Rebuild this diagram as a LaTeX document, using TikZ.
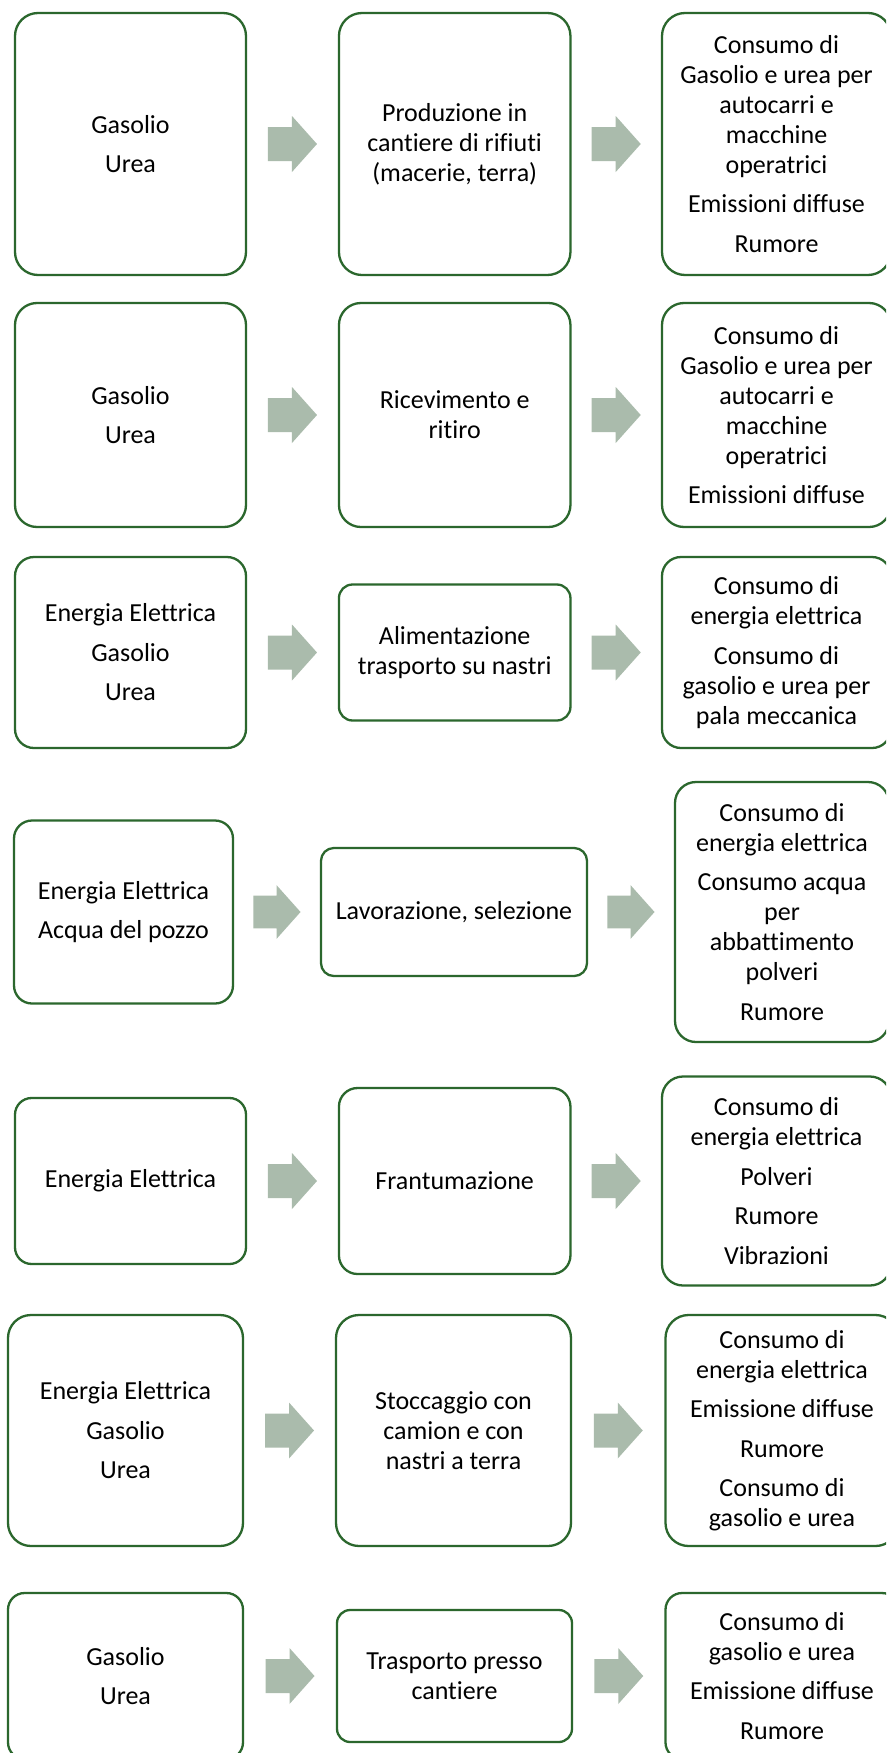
\documentclass[tikz,border=0pt]{standalone}
\usepackage{fontspec}
\setmainfont{Carlito}[Ligatures=NoCommon]
\usetikzlibrary{calc}
\definecolor{boxgreen}{HTML}{2B672D}
\definecolor{arrowgrey}{HTML}{AABBAC}
\tikzset{
  stepbox/.style={draw=boxgreen, line width=2.3pt, fill=white, inner sep=0pt,
    align=center, text=black, font=\fontsize{26}{30}\selectfont},
}
% block arrow centred between two named boxes; #3 scales it
\newcommand\blockarrow[3]{%
  \fill[arrowgrey] ($(#1.east)!0.5!(#2.west)$) ++(-24.5*#3,-17*#3)
    -- ++(24*#3,0) -- ++(0,-11*#3) -- ++(25*#3,28*#3) -- ++(-25*#3,28*#3)
    -- ++(0,-11*#3) -- ++(-24*#3,0) -- cycle;
}
\newcommand\pgap{\\[9.5pt]}
\begin{document}
\begin{tikzpicture}[x=1pt,y=-1pt]
\clip (0,0) rectangle (886,1753);
\fill[white] (0,0) rectangle (886,1753);

% row 1
\node[stepbox, minimum width=231pt, minimum height=262pt, rounded corners=23pt] (r1a) at (130.5,144)
  {Gasolio\pgap Urea};
\node[stepbox, minimum width=231.5pt, minimum height=262pt, rounded corners=23pt] (r1b) at (454.7,144)
  {Produzione in\\cantiere di rifiuti\\(macerie, terra)};
\node[stepbox, minimum width=229pt, minimum height=262pt, rounded corners=23pt] (r1c) at (776.5,144)
  {Consumo di\\Gasolio e urea per\\autocarri e\\macchine\\operatrici\pgap Emissioni diffuse\pgap Rumore};
\blockarrow{r1a}{r1b}{1}
\blockarrow{r1b}{r1c}{1}

% row 2
\node[stepbox, minimum width=231pt, minimum height=224pt, rounded corners=22pt] (r2a) at (130.5,415)
  {Gasolio\pgap Urea};
\node[stepbox, minimum width=231.5pt, minimum height=224pt, rounded corners=22pt] (r2b) at (454.7,415)
  {Ricevimento e\\ritiro};
\node[stepbox, minimum width=229pt, minimum height=224pt, rounded corners=22pt] (r2c) at (776.5,415)
  {Consumo di\\Gasolio e urea per\\autocarri e\\macchine\\operatrici\pgap Emissioni diffuse};
\blockarrow{r2a}{r2b}{1}
\blockarrow{r2b}{r2c}{1}

% row 3
\node[stepbox, minimum width=231pt, minimum height=191pt, rounded corners=19pt] (r3a) at (130.5,652.5)
  {Energia Elettrica\pgap Gasolio\pgap Urea};
\node[stepbox, minimum width=231.5pt, minimum height=136pt, rounded corners=13.6pt] (r3b) at (454.7,652.5)
  {Alimentazione\\trasporto su nastri};
\node[stepbox, minimum width=229pt, minimum height=191pt, rounded corners=19pt] (r3c) at (776.5,652.5)
  {Consumo di\\energia elettrica\pgap Consumo di\\gasolio e urea per\\pala meccanica};
\blockarrow{r3a}{r3b}{1}
\blockarrow{r3b}{r3c}{1}

% row 4
\node[stepbox, minimum width=219pt, minimum height=183pt, rounded corners=18pt] (r4a) at (123.5,912)
  {Energia Elettrica\pgap Acqua del pozzo};
\node[stepbox, minimum width=266pt, minimum height=128pt, rounded corners=12.8pt] (r4b) at (454,912)
  {Lavorazione, selezione};
\node[stepbox, minimum width=214pt, minimum height=260pt, rounded corners=21pt] (r4c) at (782,912)
  {Consumo di\\energia elettrica\pgap Consumo acqua\\per\\abbattimento\\polveri\pgap Rumore};
\blockarrow{r4a}{r4b}{0.96}
\blockarrow{r4b}{r4c}{0.96}

% row 5
\node[stepbox, minimum width=231pt, minimum height=166pt, rounded corners=16.6pt] (r5a) at (130.5,1181)
  {Energia Elettrica};
\node[stepbox, minimum width=231.5pt, minimum height=186pt, rounded corners=18.6pt] (r5b) at (454.7,1181)
  {Frantumazione};
\node[stepbox, minimum width=229pt, minimum height=209pt, rounded corners=21pt] (r5c) at (776.5,1181)
  {Consumo di\\energia elettrica\pgap Polveri\pgap Rumore\pgap Vibrazioni};
\blockarrow{r5a}{r5b}{1}
\blockarrow{r5b}{r5c}{1}

% row 6
\node[stepbox, minimum width=235pt, minimum height=231pt, rounded corners=23pt] (r6a) at (125.5,1430.5)
  {Energia Elettrica\pgap Gasolio\pgap Urea};
\node[stepbox, minimum width=235pt, minimum height=231pt, rounded corners=23pt] (r6b) at (453.5,1430.5)
  {Stoccaggio con\\camion e con\\nastri a terra};
\node[stepbox, minimum width=233pt, minimum height=231pt, rounded corners=23pt] (r6c) at (782,1430.5)
  {Consumo di\\energia elettrica\pgap Emissione diffuse\pgap Rumore\pgap Consumo di\\gasolio e urea};
\blockarrow{r6a}{r6b}{1}
\blockarrow{r6b}{r6c}{1}

% row 7
\node[stepbox, minimum width=235pt, minimum height=166pt, rounded corners=16.6pt] (r7a) at (125.5,1676)
  {Gasolio\pgap Urea};
\node[stepbox, minimum width=235pt, minimum height=132pt, rounded corners=13.2pt] (r7b) at (454.5,1676)
  {Trasporto presso\\cantiere};
\node[stepbox, minimum width=233pt, minimum height=166pt, rounded corners=16.6pt] (r7c) at (782,1676)
  {Consumo di\\gasolio e urea\pgap Emissione diffuse\pgap Rumore};
\blockarrow{r7a}{r7b}{1}
\blockarrow{r7b}{r7c}{1}
\end{tikzpicture}
\end{document}
